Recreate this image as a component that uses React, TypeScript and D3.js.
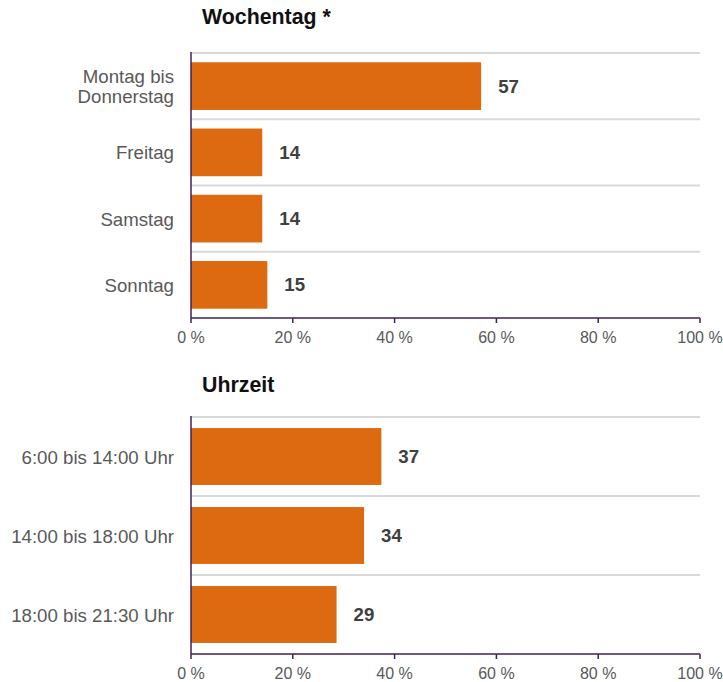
import React from "react";
import * as d3 from "d3";

const dayLabels = [["Montag bis", "Donnerstag"], ["Freitag"], ["Samstag"], ["Sonntag"]];
const dayValues = [57, 14, 14, 15];
const timeLabels = [["6:00 bis 14:00 Uhr"], ["14:00 bis 18:00 Uhr"], ["18:00 bis 21:30 Uhr"]];
const timeValues = [37.4, 34, 28.6];
const timeShown = [37, 34, 29];
const tickValues = [0, 20, 40, 60, 80, 100];

const BAR = "#dd6a10";
const AXIS = "#3f2158";
const GRID = "#d9d9d9";
const FONT = "'Liberation Sans', Arial, sans-serif";
const LABEL_SIZE = 18.67;

const BarPanel = ({ title, labels, values, shown, top, bottom, titleY }) => {
  const x = d3.scaleLinear().domain([0, 100]).range([191, 700]);
  const y = d3
    .scaleBand()
    .domain(labels.map((d, i) => String(i)))
    .range([top, bottom])
    .paddingInner(0.28)
    .paddingOuter(0.14);
  const step = y.step();
  return (
    <g>
      <text x={202} y={titleY} fontFamily={FONT} fontSize={21.33} fontWeight="bold" fill="#111">
        {title}
      </text>
      {labels.map((d, i) => (
        <line key={"g" + i} x1={191} x2={700} y1={top + i * step} y2={top + i * step} stroke={GRID} strokeWidth={2} />
      ))}
      {values.map((v, i) => (
        <rect key={"b" + i} x={x(0)} y={y(String(i))} width={x(v) - x(0)} height={y.bandwidth()} fill={BAR} />
      ))}
      {values.map((v, i) => (
        <text
          key={"v" + i}
          x={x(v) + 17}
          y={y(String(i)) + y.bandwidth() / 2}
          dy="0.35em"
          fontFamily={FONT}
          fontSize={LABEL_SIZE}
          fontWeight="bold"
          fill="#404040"
        >
          {shown[i]}
        </text>
      ))}
      {labels.map((lines, i) => (
        <text
          key={"l" + i}
          x={174}
          y={y(String(i)) + y.bandwidth() / 2}
          textAnchor="end"
          fontFamily={FONT}
          fontSize={LABEL_SIZE}
          fill="#595959"
        >
          {lines.map((t, j) => (
            <tspan key={j} x={174} dy={j === 0 ? 0.38 * LABEL_SIZE - (lines.length - 1) * 10 : 20}>
              {t}
            </tspan>
          ))}
        </text>
      ))}
      <line x1={191} x2={191} y1={top - 1} y2={bottom} stroke={AXIS} strokeWidth={1.5} />
      <line x1={191} x2={700} y1={bottom} y2={bottom} stroke={AXIS} strokeWidth={1.5} />
      {tickValues.map((t) => (
        <g key={"t" + t}>
          <line x1={x(t)} x2={x(t)} y1={bottom} y2={bottom + 5} stroke={AXIS} strokeWidth={1.5} />
          <text x={x(t)} y={bottom + 25} textAnchor="middle" fontFamily={FONT} fontSize={16} fill="#595959">
            {t + " %"}
          </text>
        </g>
      ))}
    </g>
  );
};

export default function App() {
  return (
    <svg width={723} height={682} style={{ position: "absolute", left: 0, top: 0 }}>
      <rect width={723} height={682} fill="#fff" />
      <BarPanel title="Wochentag *" labels={dayLabels} values={dayValues} shown={dayValues} top={53} bottom={318} titleY={24} />
      <BarPanel title="Uhrzeit" labels={timeLabels} values={timeValues} shown={timeShown} top={417} bottom={654} titleY={392} />
    </svg>
  );
}
